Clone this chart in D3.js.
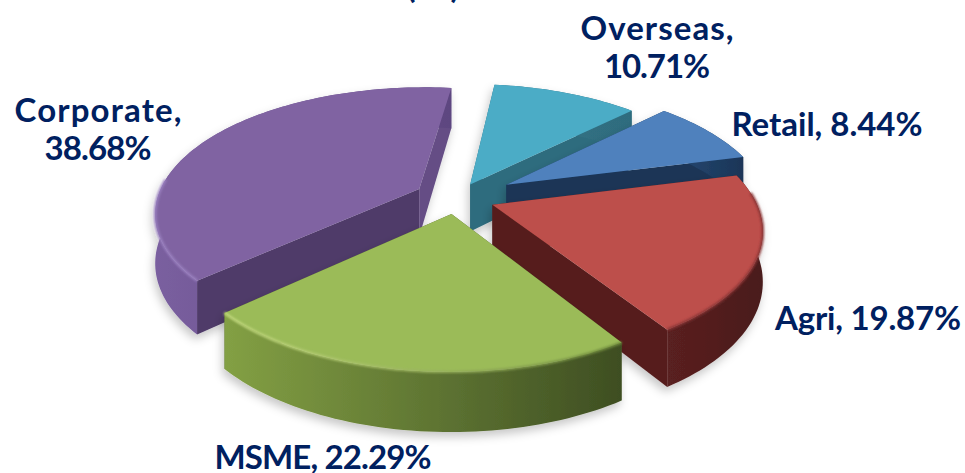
<!DOCTYPE html>
<html><head><meta charset="utf-8">
<script src="https://cdn.jsdelivr.net/npm/d3@7"></script>
<style>html,body{margin:0;padding:0;background:#fff;overflow:hidden}
text{font-family:Lato,"Open Sans",sans-serif;font-weight:700;fill:#002060;font-size:33px}</style>
</head><body><svg id="c" width="965" height="473"></svg>
<script>
const categories=["Retail","Agri","MSME","Corporate","Overseas"];
const shares=[8.44,19.87,22.29,38.68,10.71];
const explosion=[0.225,0.148,0.128,0.16,0.125];
const topColors=["#4f81bd","#bd4f4b","#9bbb59","#8064a2","#4bacc6"];
const edgeColors=["#1a3557","#561f1f","#4e5f2c","#4f3b69","#2f6c7e"];
const wallLeft=["#274b75","#5a2020","#83a044","#7a5f9f","#327488"];
const wallRight=["#1a3557","#4a1b1b","#3e4e22","#5d4680","#2f6c7e"];
const rimColors=["#6f9bd0","#8a3535","#c5dc80","#9a80c0","#6cc4da"];
const drawOrder=[4,0,3,1,2];
const labels=[["Overseas,","10.71%"],["Retail, 8.44%"],["Agri, 19.87%"],["MSME, 22.29%"],["Corporate,","38.68%"]];
const labelAnchors=[[657,40],[827,136],[868,330],[323,469],[98,122]];
const labelWidths=[[153,106],[191],[186],[217],[167,107]];

const svg=d3.select("#c");
const defs=svg.append("defs");
const f=defs.append("filter").attr("id","sh").attr("x","-20%").attr("y","-20%").attr("width","140%").attr("height","150%");
f.append("feDropShadow").attr("dx",-2).attr("dy",5).attr("stdDeviation",5).attr("flood-color","#000").attr("flood-opacity",.22);
defs.append("filter").attr("id","soft").attr("filterUnits","userSpaceOnUse").attr("x",0).attr("y",0).attr("width",965).attr("height",473).append("feGaussianBlur").attr("stdDeviation",1.1);

const sx=d3.scaleLinear().domain([-1,1]).range([456-262,456+262]);
const sy=d3.scaleLinear().domain([-1,1]).range([198-123,198+123]);
const persp=.18, depth=48, rot=45.5*Math.PI/180;
const pie=d3.pie().sort(null).startAngle(rot).endAngle(rot+2*Math.PI).value(d=>d);
const arcs=pie(shares);
const line=d3.line();

function proj(X,Y,z){
  const s=1/(1-persp*Y);
  return [sx(0)+(sx(X)-sx(0))*s, sy(0)+(sy(Y)-sy(0))*s+z*depth*s];
}
drawOrder.forEach(i=>{
  const a=arcs[i], mid=(a.startAngle+a.endAngle)/2, e=explosion[i];
  const ox=Math.sin(mid)*e, oy=-Math.cos(mid)*e;
  const n=Math.ceil((a.endAngle-a.startAngle)*40);
  const angles=d3.range(n+1).map(k=>a.startAngle+(a.endAngle-a.startAngle)*k/n);
  const rimAt=(t,z)=>proj(ox+Math.sin(t),oy-Math.cos(t),z);
  const rim=z=>angles.map(t=>rimAt(t,z));
  const apex=z=>proj(ox,oy,z);
  const g=svg.append("g").attr("filter","url(#sh)");
  const ext=d3.extent(rim(0),d=>d[0]);
  const mk=(id,c0,c1)=>{
    const gr=defs.append("linearGradient").attr("id",id).attr("gradientUnits","userSpaceOnUse")
      .attr("x1",ext[0]).attr("x2",ext[1]).attr("y1",0).attr("y2",0);
    gr.append("stop").attr("offset",0).attr("stop-color",c0);
    gr.append("stop").attr("offset",1).attr("stop-color",c1);
  };
  mk("w"+i,wallLeft[i],wallRight[i]);
  mk("r"+i,rimColors[i],i===2?"#6f8a3c":rimColors[i]);
  [a.startAngle,a.endAngle].forEach((t,w)=>{
    const col=(i===3&&w===1)?"#654e85":edgeColors[i];
    g.append("path").attr("d",line([apex(0),rimAt(t,0),rimAt(t,1),apex(1)])+"Z").attr("fill",col);
  });
  g.append("path").attr("d",line(rim(0).concat(rim(1).reverse()))+"Z").attr("fill",`url(#w${i})`);
  g.append("path").attr("d",line([apex(0)].concat(rim(0)))+"Z").attr("fill",topColors[i]);
  const near=angles.filter(t=>-Math.cos(t)>-0.1).map(t=>rimAt(t,0));
  if(near.length>1 && i!==0 && i!==4)
    g.append("path").attr("d",line(near)).attr("fill","none").attr("stroke",`url(#r${i})`).attr("stroke-width",2.5).attr("filter","url(#soft)");
});
labels.forEach((lines,i)=>{
  const t=svg.append("text").attr("text-anchor","middle");
  lines.forEach((s,j)=>t.append("tspan").attr("x",labelAnchors[i][0]).attr("y",labelAnchors[i][1]+j*38)
    .attr("textLength",labelWidths[i][j]).attr("lengthAdjust","spacing").text(s));
});
svg.append("text").attr("x",433).attr("y",-2).attr("text-anchor","middle").attr("textLength",53).text("(%)");
</script></body></html>
